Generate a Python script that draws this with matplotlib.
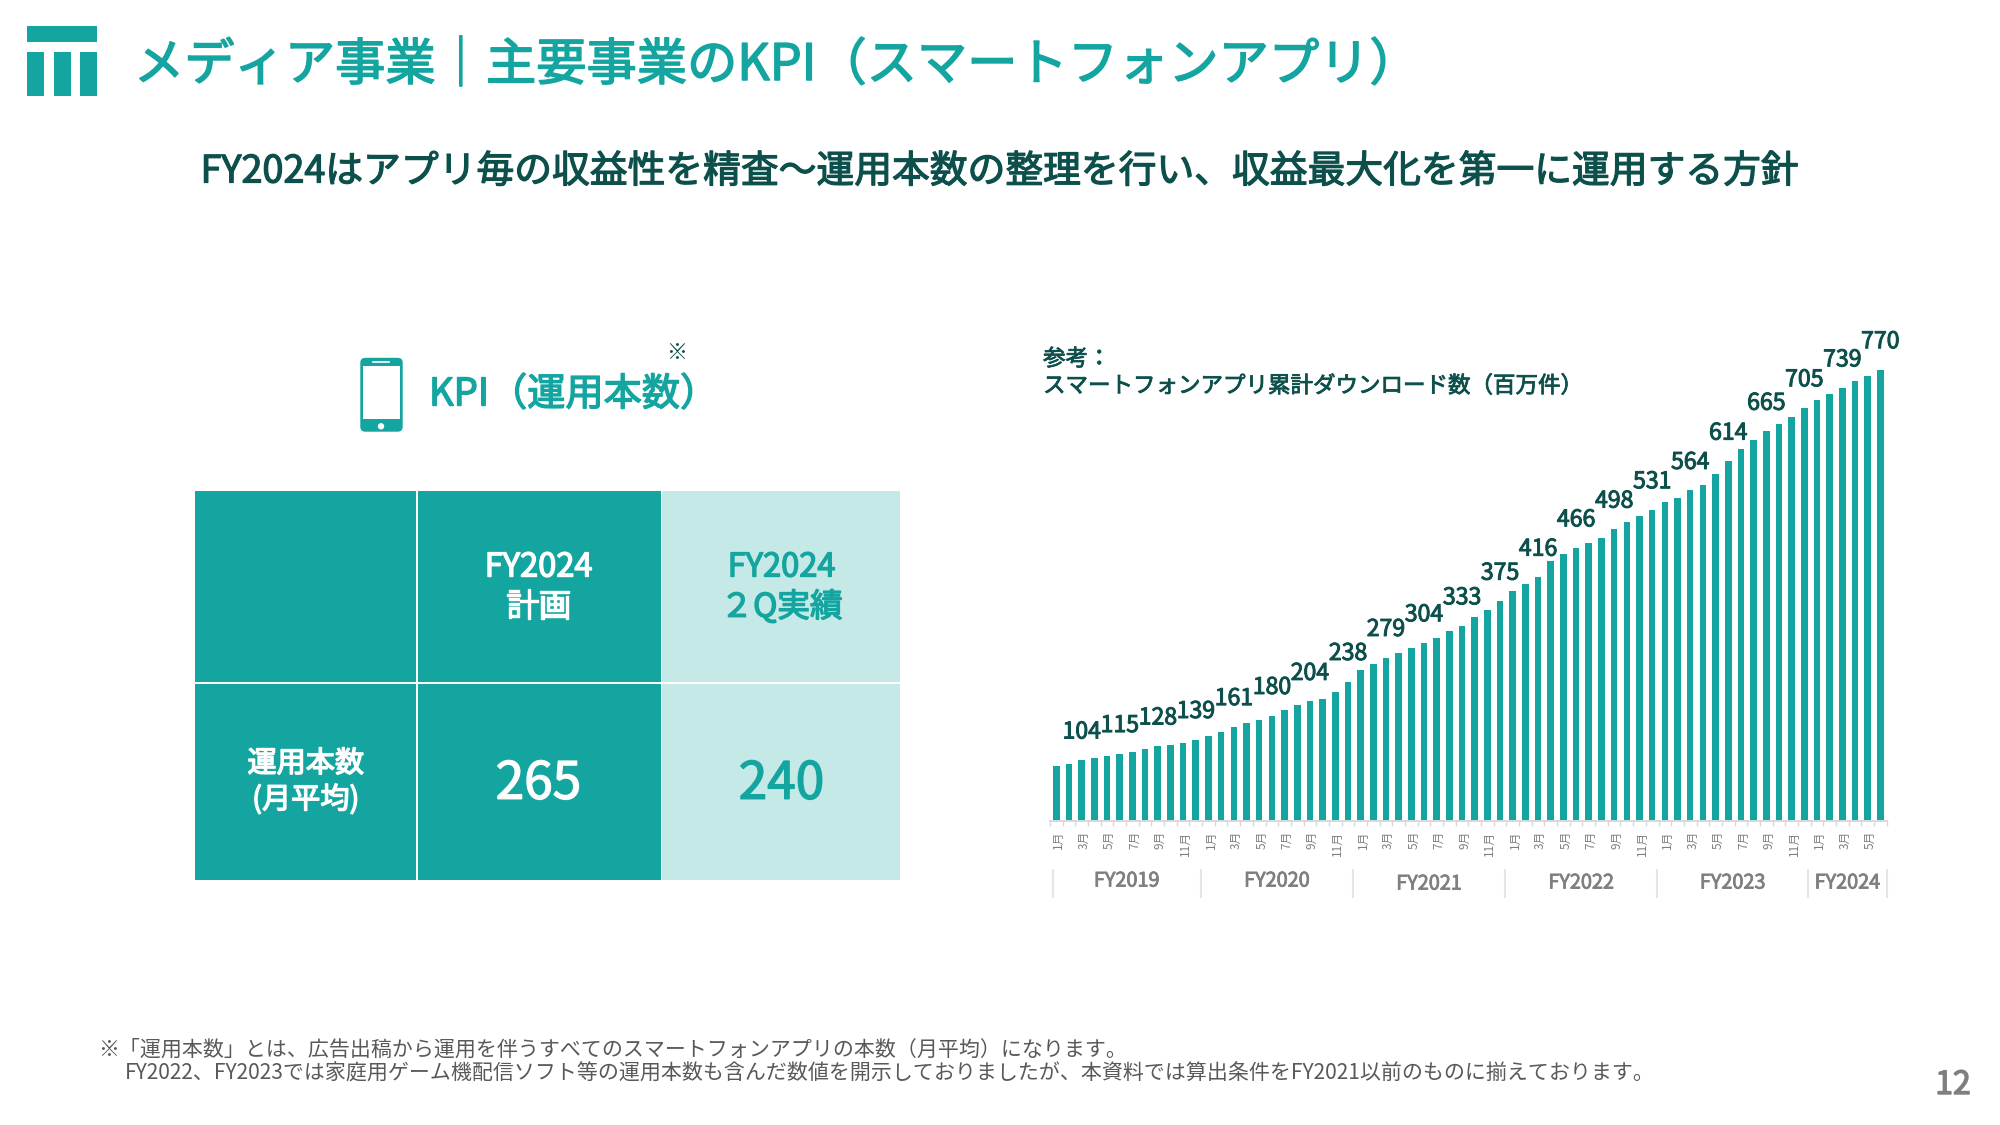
import matplotlib
matplotlib.use("Agg")
import matplotlib.patheffects as pe
import matplotlib.pyplot as plt
import numpy as np
from matplotlib.patches import Circle, FancyBboxPatch, Rectangle
from matplotlib.transforms import ScaledTranslation, blended_transform_factory

plt.rcParams["font.family"] = ["Noto Sans CJK JP", "DejaVu Sans"]

TEAL = "#14a5a0"
LIGHT = "#c5e9e6"
DARK = "#0c4f4b"
GREY = "#7f7f7f"

# cumulative downloads, million, one bar per month
downloads = [94, 97, 104, 107, 111, 115, 117, 123, 128, 130, 133, 139,
             145, 152, 161, 167, 172, 180, 189, 198, 204, 209, 220, 238,
             257, 268, 279, 287, 296, 304, 312, 324, 333, 348, 360, 375,
             393, 404, 416, 444, 456, 466, 474, 483, 498, 510, 520, 531,
             545, 552, 564, 573, 593, 614, 634, 651, 665, 677, 689, 705,
             719, 728, 739, 751, 760, 770]
month_names = ["1月", "3月", "5月", "7月", "9月", "11月"]
fy_names = ["FY2019", "FY2020", "FY2021", "FY2022", "FY2023", "FY2024"]
fy_edges = [-0.3, 11.4, 23.4, 35.4, 47.4, 59.3, 65.5]

kpi_plan = "265"
kpi_actual = "240"

title = "メディア事業｜主要事業のKPI（スマートフォンアプリ）"
subtitle = "FY2024はアプリ毎の収益性を精査～運用本数の整理を行い、収益最大化を第一に運用する方針"
note1 = "※「運用本数」とは、広告出稿から運用を伴うすべてのスマートフォンアプリの本数（月平均）になります。"
note2 = "FY2022、FY2023では家庭用ゲーム機配信ソフト等の運用本数も含んだ数値を開示しておりましたが、本資料では算出条件をFY2021以前のものに揃えております。"


def medium(color, w=0.8):
    # the font has no medium weight here, thicken the regular one a bit
    return [pe.withStroke(linewidth=w, foreground=color)]


def main():
    fig = plt.figure(figsize=(20, 11.25), dpi=100)

    # whole slide in pixels, y going down
    bg = fig.add_axes([0, 0, 1, 1])
    bg.set_xlim(0, 2000)
    bg.set_ylim(1125, 0)
    bg.axis("off")

    # logo
    bg.add_patch(Rectangle((27, 26), 70, 16, color=TEAL, lw=0))
    for x0 in (27, 53.6, 80.2):
        bg.add_patch(Rectangle((x0, 52), 17, 44, color=TEAL, lw=0))

    bg.text(134, 66, title, color=TEAL, fontsize=36.2, va="center",
            path_effects=medium(TEAL, 1.1))
    bg.text(999, 172, subtitle, color=DARK, fontsize=27.2, ha="center", va="center",
            path_effects=medium(DARK, 0.9))

    # phone icon
    bg.add_patch(FancyBboxPatch((363, 360.5), 37, 68.5, boxstyle="round,pad=2.7,rounding_size=5",
                                fc=TEAL, ec="none"))
    bg.add_patch(Rectangle((362.7, 365.7), 37.3, 53.6, color="white", lw=0))
    bg.plot([373, 389], [362, 362], color="white", lw=1.2)
    bg.add_patch(Circle((381, 426.3), 3.2, color="white", lw=0))

    bg.text(429, 395, "KPI（運用本数）", color=TEAL, fontsize=27.5, va="center",
            path_effects=medium(TEAL, 1.0))
    bg.text(677, 353, "※", color=DARK, fontsize=15, ha="center", va="center")

    # table
    cells = [(195, 491, 221, 190.7, TEAL), (418, 491, 243, 190.7, TEAL), (662.3, 491, 238, 190.7, LIGHT),
             (195, 683.7, 221, 196.3, TEAL), (418, 683.7, 243, 196.3, TEAL), (662.3, 683.7, 238, 196.3, LIGHT)]
    for x0, y0, w, h, c in cells:
        bg.add_patch(Rectangle((x0, y0), w, h, color=c, lw=0))
    for x, y, s, c, fs in [(538.5, 567.5, "FY2024", "white", 23.5),
                           (538.5, 607, "計画", "white", 23.5),
                           (781.5, 567.5, "FY2024", TEAL, 23.5),
                           (781.5, 607, "２Q実績", TEAL, 23.5),
                           (305.7, 764, "運用本数", "white", 21),
                           (305.7, 800, "(月平均)", "white", 21),
                           (538.5, 784, kpi_plan, "white", 37),
                           (781.5, 784, kpi_actual, TEAL, 37)]:
        bg.text(x, y, s, color=c, fontsize=fs, ha="center", va="center",
                path_effects=medium(c, 1.0))

    # chart caption
    bg.text(1043, 359, "参考：", color=DARK, fontsize=16.2, va="center",
            path_effects=medium(DARK, 0.6))
    bg.text(1043, 386, "スマートフォンアプリ累計ダウンロード数（百万件）", color=DARK,
            fontsize=16.2, va="center", path_effects=medium(DARK, 0.6))

    # bars
    ax = fig.add_axes([1050 / 2000, 1 - 821 / 1125, 836.7 / 2000, 481 / 1125])
    ax.patch.set_alpha(0)
    x = np.arange(len(downloads))
    ax.bar(x, downloads, width=0.52, color=TEAL)
    ax.set_xlim(-0.5, len(downloads) - 0.5)
    ax.set_ylim(0, 481 / 0.586)
    for s in ("top", "left", "right"):
        ax.spines[s].set_visible(False)
    ax.spines["bottom"].set_color("#d9d9d9")
    ax.spines["bottom"].set_linewidth(1.4)
    ax.set_yticks([])

    ax.set_xticks(x[::2])
    ax.set_xticklabels([month_names[i % 6] for i in range(len(x[::2]))], rotation=90,
                       fontsize=8.5, color=GREY, ha="center", va="top")
    ax.set_xticks(np.arange(len(x) + 1) - 0.5, minor=True)
    ax.tick_params(axis="x", which="major", length=0, pad=7)
    ax.tick_params(axis="x", which="minor", length=3.5, width=1, color="#d9d9d9")
    nudge = ScaledTranslation(2.5 / 100, 0, fig.dpi_scale_trans)
    for lab in ax.get_xticklabels():
        lab.set_transform(lab.get_transform() + nudge)

    # every third month gets a value label
    for i in x[2::3]:
        ax.annotate(str(downloads[i]), (i, downloads[i]), xytext=(0, 20.2),
                    textcoords="offset points", ha="center", va="center",
                    fontsize=16.6, color=DARK, path_effects=medium(DARK, 0.7))

    # fiscal year brackets below the month labels
    trans = blended_transform_factory(ax.transData, bg.transData)
    for e in fy_edges:
        bg.plot([e, e], [870, 897], color="#e6e6e6", lw=1.5, transform=trans, clip_on=False)
    for name, a, b, y in zip(fy_names, fy_edges[:-1], fy_edges[1:], [881, 881, 884, 883, 883, 883]):
        bg.text((a + b) / 2, y, name, color=GREY, fontsize=14.3, ha="center", va="center",
                transform=trans, path_effects=medium(GREY, 0.6))

    # footnotes and page number
    bg.text(98, 1050, note1, color="#595959", fontsize=15.1, va="center")
    bg.text(125, 1074, note2, color="#595959", fontsize=15.1, va="center")
    bg.text(1953, 1085, "12", color=GREY, fontsize=23, ha="center", va="center",
            path_effects=medium(GREY, 1.0))

    fig.savefig("out.png", dpi=100)


if __name__ == "__main__":
    main()
